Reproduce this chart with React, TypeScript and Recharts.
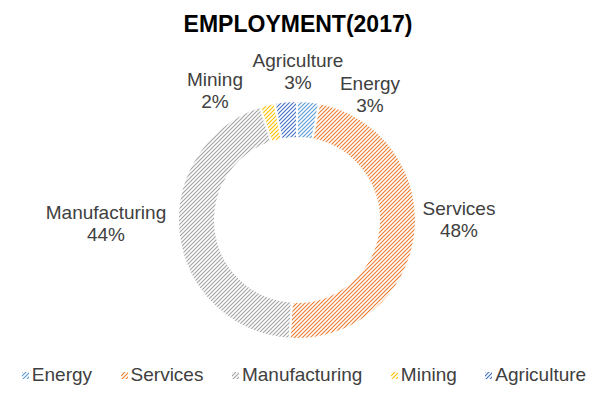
import React from 'react';
import { PieChart, Pie, Cell, Legend } from 'recharts';

const categories = ['Energy', 'Services', 'Manufacturing', 'Mining', 'Agriculture'];
const shares = [3, 48, 44, 2, 3];
const colors = ['#5B9BD5', '#ED7D31', '#A5A5A5', '#FFC000', '#4472C4'];

const data = categories.map((name, i) => ({ name, value: shares[i] }));

const FONT = '"Liberation Sans", Arial, Helvetica, sans-serif';
const TEXT = '#404040';

// label anchor offsets (relative to the pie centre), Excel-style placement
const labelOffsets: Record<string, [number, number]> = {
  Energy: [73, -130],
  Services: [162, -5],
  Manufacturing: [-191, -1],
  Mining: [-82, -134],
  Agriculture: [1, -153],
};

const renderLabel = (props: any) => {
  const { cx, cy } = props;
  const name = props.name ?? props.payload?.name;
  const value = props.value ?? props.payload?.value;
  const off = labelOffsets[name] || [0, 0];
  const x = cx + off[0];
  const y = cy + off[1];
  return (
    <text x={x} y={y} textAnchor="middle" fill={TEXT} fontSize={19} fontFamily={FONT}>
      <tspan x={x} dy={0}>{name}</tspan>
      <tspan x={x} dy={22}>{value}%</tspan>
    </text>
  );
};

const renderLegend = () => (
  <div
    style={{
      display: 'flex',
      justifyContent: 'center',
      paddingLeft: 8,
      fontFamily: FONT,
      fontSize: 19,
      color: TEXT,
      lineHeight: '24px',
    }}
  >
    {categories.map((c, i) => (
      <div
        key={c}
        style={{ display: 'flex', alignItems: 'center', marginRight: i < categories.length - 1 ? 28.5 : 0 }}
      >
        <svg width={7} height={7} style={{ marginRight: 3 }}>
          <rect width={7} height={7} fill={`url(#hatch-${i})`} />
        </svg>
        <span>{c}</span>
      </div>
    ))}
  </div>
);

export default function App() {
  return (
    <div style={{ position: 'absolute', left: 0, top: 0, width: 600, height: 394, background: '#fff' }}>
      <svg width={0} height={0} style={{ position: 'absolute' }}>
        <defs>
          {colors.map((col, i) => (
            <pattern key={i} id={`hatch-${i}`} patternUnits="userSpaceOnUse" width={4} height={4}>
              <rect width={4} height={4} fill="#fff" />
              <path d="M-1,1 l2,-2 M0,4 l4,-4 M3,5 l2,-2" stroke={col} strokeWidth={1.15} />
            </pattern>
          ))}
        </defs>
      </svg>
      <div
        style={{
          position: 'absolute',
          left: 0,
          top: 12.5,
          width: 600,
          textAlign: 'center',
          fontFamily: FONT,
          fontWeight: 'bold',
          fontSize: 23,
          lineHeight: '23px',
          color: '#000',
        }}
      >
        <span style={{ position: 'relative', left: -2 }}>EMPLOYMENT(2017)</span>
      </div>
      <PieChart
        width={600}
        height={394}
        margin={{ top: 0, right: 0, bottom: 0, left: 0 }}
        style={{ position: 'absolute', left: 0, top: 0 }}
      >
        <Pie
          data={data}
          dataKey="value"
          nameKey="name"
          cx={297}
          cy={220}
          outerRadius={119}
          innerRadius={82}
          startAngle={90}
          endAngle={-270}
          stroke="#fff"
          strokeWidth={2}
          label={renderLabel}
          labelLine={false}
          isAnimationActive={false}
        >
          {data.map((d, i) => (
            <Cell key={d.name} fill={`url(#hatch-${i})`} />
          ))}
        </Pie>
        <Legend
          content={renderLegend}
          wrapperStyle={{ position: 'absolute', left: 0, top: 363, width: 600, height: 24 }}
        />
      </PieChart>
    </div>
  );
}
